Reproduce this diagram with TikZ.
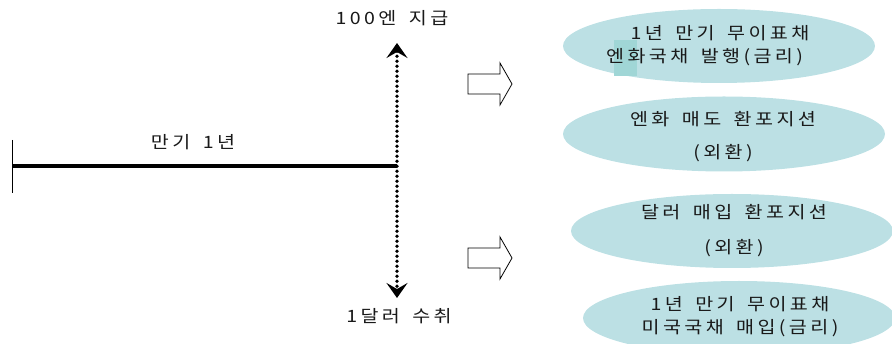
\documentclass[tikz,border=0pt]{standalone}
\usepackage{fontspec}
\newfontfamily\kr[LetterSpace=20,FakeStretch=1.15,WordSpace=1.6]{Noto Sans CJK KR}
\usetikzlibrary{shapes.geometric,arrows.meta}
\definecolor{ellfill}{RGB}{188,224,228}
\definecolor{hilite}{RGB}{160,214,214}
\definecolor{txt}{RGB}{25,25,25}
\tikzset{
  bubble/.style={ellipse, fill=ellfill, draw=none, inner sep=0pt, minimum width=312pt, minimum height=74pt},
  lbl/.style={inner sep=0pt, text=txt, align=center, font=\kr\fontsize{17}{24}\selectfont},
  blockarrow/.style={draw=black, line width=0.8pt, fill=white},
  timeline/.style={line width=4pt},
  dotarrow/.style={line width=3.6pt, line cap=round, dash pattern=on 0pt off 5pt,
     {Stealth[length=15pt,width=21pt,inset=6pt]}-{Stealth[length=15pt,width=21pt,inset=6pt]}}
}
\begin{document}
\begin{tikzpicture}[x=1pt,y=-1pt]
\useasboundingbox (0,0) rectangle (892,344);
% bubbles
\node[bubble] (e1) at (719,46) {};
\node[bubble, minimum width=322pt, minimum height=75pt] (e2) at (724,134) {};
\node[bubble, minimum width=322pt] (e3) at (732,231) {};
\node[bubble] (e4) at (739,318) {};
\fill[hilite] (614,40) rectangle (637,76);
\node[lbl] (t1a) at (720,33) {1년 만기 무이표채};
\node[lbl, anchor=west] (t1b) at (606,57) {엔화국채 발행(금리)};
\node[lbl, font=\kr\fontsize{17}{33}\selectfont] (t2) at (723,136.5) {엔화 매도 환포지션\\(외환)};
\node[lbl, font=\kr\fontsize{17}{35}\selectfont] (t3) at (734,230.5) {달러 매입 환포지션\\(외환)};
\node[lbl, font=\kr\fontsize{17}{23}\selectfont] (t4) at (740,316.5) {1년 만기 무이표채\\미국국채 매입(금리)};
% timeline
\coordinate (start) at (12,166);
\coordinate (mid) at (397,166);
\coordinate (tickt) at (12,140);
\coordinate (tickb) at (12,193);
\draw[line width=0.8pt] (tickt) -- (tickb);
\draw[timeline] (start) -- (mid);
\node[lbl] (period) at (193,142) {만기 1년};
% dotted double arrow
\coordinate (top) at (397,43);
\coordinate (bot) at (397,298);
\draw[dotarrow] (top) -- (bot);
\node[lbl] (pay) at (392,18) {100엔 지급};
\node[lbl] (recv) at (399,316) {1달러 수취};
% block arrows
\draw[blockarrow] (468,74) -- (500,74) -- (500,63) -- (512,84) -- (500,105) -- (500,94) -- (468,94) -- cycle;
\draw[blockarrow] (468,248) -- (500,248) -- (500,237) -- (512,258) -- (500,279) -- (500,268) -- (468,268) -- cycle;
\end{tikzpicture}
\end{document}
